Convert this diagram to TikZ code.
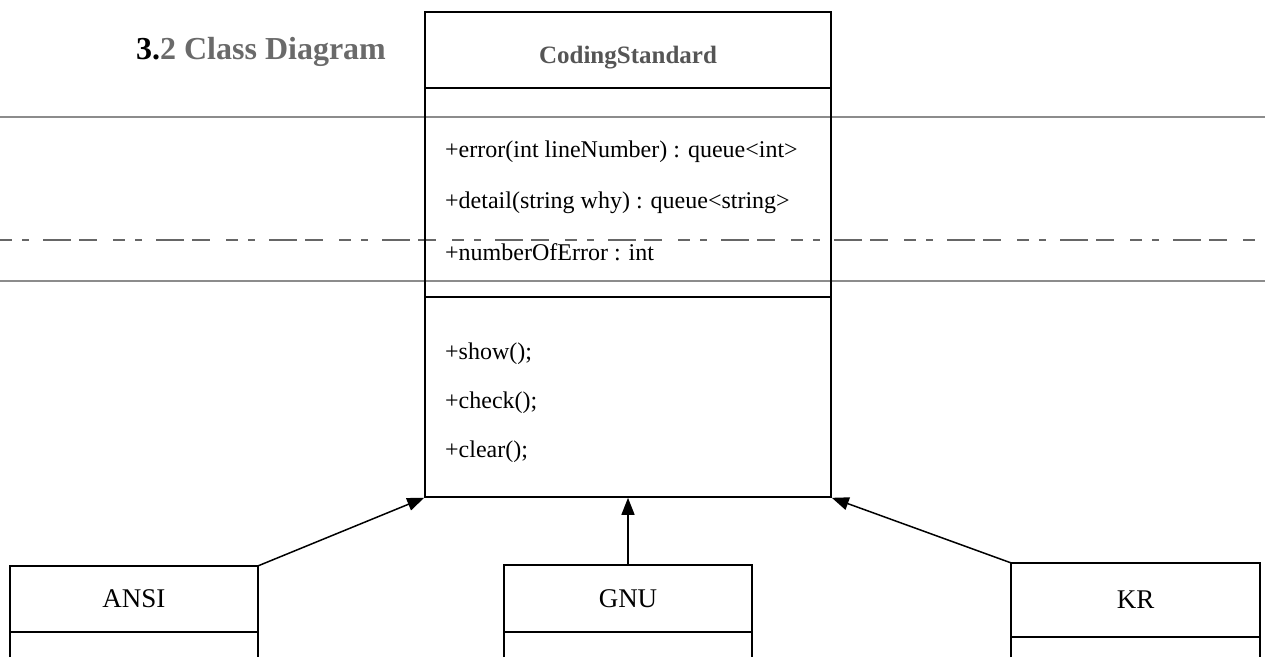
\documentclass[tikz,border=0pt]{standalone}
\usepackage{fontspec}
\setmainfont{Liberation Serif}
\usetikzlibrary{arrows.meta}
\definecolor{titlegray}{HTML}{6A6A6A}
\definecolor{headgray}{HTML}{555555}
\begin{document}
\begin{tikzpicture}[x=1pt,y=-1pt,
  box/.style={draw=black, line width=1.6pt, inner sep=0pt},
  subbox/.style={inner sep=0pt, font=\fontsize{27}{30}\selectfont},
  member/.style={anchor=west, inner sep=0pt, font=\fontsize{24}{26}\selectfont},
  sepline/.style={draw=black, line width=1.6pt},
  inherit/.style={-{Triangle[length=17pt,width=13pt]}, line width=1.5pt},
  scanline/.style={draw=black!45, line width=1.5pt},
  scandash/.style={draw=black!60, line width=1.1pt, dash pattern=on 12pt off 10pt on 7pt off 14pt on 28pt off 8pt on 18pt off 16pt}
]
\useasboundingbox (0,0) rectangle (1265,657);

% scan artefact lines
\coordinate (l1a) at (0,117); \coordinate (l1b) at (1265,117);
\coordinate (l2a) at (0,281); \coordinate (l2b) at (1265,281);
\coordinate (l3a) at (0,240); \coordinate (l3b) at (1265,240);
\draw[scanline] (l1a) -- (l1b);
\draw[scanline] (l2a) -- (l2b);
\draw[scandash] (l3a) -- (l3b);

% title
\node[inner sep=0pt, font=\fontsize{32}{36}\selectfont\bfseries] (title) at (261,52)
  {3.\textcolor{titlegray}{2 Class Diagram}};

% main class
\node[box, minimum width=406pt, minimum height=485pt] (cs) at (628,254.5) {};
\coordinate (h1) at (425,88); \coordinate (h2) at (831,88);
\coordinate (m1) at (425,297); \coordinate (m2) at (831,297);
\draw[sepline] (h1) -- (h2);
\draw[sepline] (m1) -- (m2);
\node[inner sep=0pt, font=\fontsize{25}{28}\selectfont\bfseries, text=headgray] (csname) at (628,58) {CodingStandard};

\node[member] (a1) at (445,152) {+error(int lineNumber) : queue<int>};
\node[member] (a2) at (445,203) {+detail(string why) : queue<string>};
\node[member] (a3) at (445,252) {+numberOfError : int};
\node[member] (o1) at (445,354) {+show();};
\node[member] (o2) at (445,403) {+check();};
\node[member] (o3) at (445,452) {+clear();};

% subclasses (cut off at the bottom)
\node[subbox, minimum width=248pt, minimum height=66pt] (ansi) at (134,599) {ANSI};
\coordinate (ansiL) at (10,657); \coordinate (ansiR) at (258,657);
\draw[sepline] (ansiL) |- (ansi.north) -| (ansiR);
\draw[sepline] (ansi.south west) -- (ansi.south east);

\node[subbox, minimum width=248pt, minimum height=67pt] (gnu) at (628,598.5) {GNU};
\coordinate (gnuL) at (504,657); \coordinate (gnuR) at (752,657);
\draw[sepline] (gnuL) |- (gnu.north) -| (gnuR);
\draw[sepline] (gnu.south west) -- (gnu.south east);

\node[subbox, minimum width=249pt, minimum height=74pt] (kr) at (1135.5,600) {KR};
\coordinate (krL) at (1011,657); \coordinate (krR) at (1260,657);
\draw[sepline] (krL) |- (kr.north) -| (krR);
\draw[sepline] (kr.south west) -- (kr.south east);

% inheritance arrows
\draw[inherit] (ansi.north east) -- (cs.south west);
\draw[inherit] (gnu.north) -- (cs.south);
\draw[inherit] (kr.north west) -- (cs.south east);
\end{tikzpicture}
\end{document}
